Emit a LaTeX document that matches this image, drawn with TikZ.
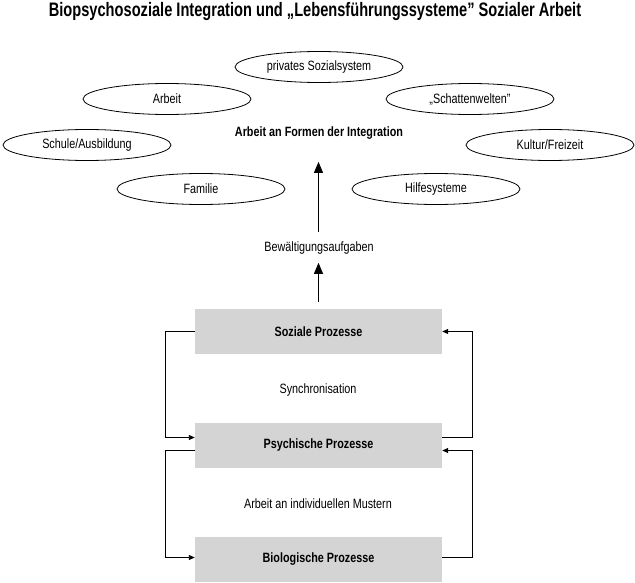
\documentclass[tikz,border=0pt]{standalone}
\usepackage{fontspec}
\setmainfont{Liberation Sans}[FakeStretch=0.8]
\newfontfamily\titelfont{Liberation Sans}[FakeStretch=0.75]
\usetikzlibrary{shapes.geometric,arrows.meta,positioning}
\definecolor{boxgray}{RGB}{212,212,212}

\tikzset{
    feld/.style={ellipse, draw, line width=0.8pt, minimum width=168pt, minimum height=31pt, inner sep=0pt, font=\fontsize{13.5}{15}\selectfont},
    prozess/.style={rectangle, fill=boxgray, minimum width=247pt, minimum height=45pt, inner sep=0pt, font=\fontsize{13.5}{15}\selectfont\bfseries},
    etikett/.style={font=\fontsize{13.5}{15}\selectfont},
    hoch/.style={-{Triangle[width=9pt,length=11pt]}, line width=1pt},
    rueck/.style={-{Triangle[width=5pt,length=6pt]}, line width=0.9pt}
}

\begin{document}
\begin{tikzpicture}[x=1pt, y=-1pt]
\useasboundingbox (0,0) rectangle (635,583);

% Titel
\node[font=\titelfont\fontsize{19.5}{21}\selectfont\bfseries] (titel) at (315,12) {Biopsychosoziale Integration und „Lebensführungssysteme” Sozialer Arbeit};

% Lebensführungssysteme
\node[feld] (privat) at (319,67) {privates Sozialsystem};
\node[feld] (arbeit) at (167,99) {Arbeit};
\node[feld] (schatten) at (470,99) {„Schattenwelten”};
\node[feld] (schule) at (87,145) {Schule/Ausbildung};
\node[feld] (kultur) at (550,145) {Kultur/Freizeit};
\node[feld] (familie) at (201,189) {Familie};
\node[feld] (hilfe) at (436,189) {Hilfesysteme};
\node[etikett, font=\fontsize{13.5}{15}\selectfont\bfseries] (integ) at (319,133) {Arbeit an Formen der Integration};

% Bewältigung
\node[etikett] (bew) at (319,248) {Bewältigungsaufgaben};

% Prozessebenen
\node[prozess] (soz) at (318.5,331.5) {Soziale Prozesse};
\node[prozess] (psy) at (318.5,445.5) {Psychische Prozesse};
\node[prozess] (bio) at (318.5,559.5) {Biologische Prozesse};
\node[etikett] (sync) at (318,390) {Synchronisation};
\node[etikett] (muster) at (318,504) {Arbeit an individuellen Mustern};

% Pfeile nach oben
\draw[hoch, shorten <=7pt, shorten >=5pt] (soz.north) -- (soz.north |- bew.south);
\draw[hoch, shorten <=6pt, shorten >=19pt] (soz.north |- bew.north) -- (soz.north |- integ.south);

% Rückkopplungen
\draw[rueck] (soz.west) -- ++(-29,0) |- ([yshift=8pt]psy.west);
\draw[rueck] ([yshift=8pt]psy.east) -- ++(30,0) |- (soz.east);
\draw[rueck] ([yshift=-5pt]psy.west) -- ++(-29,0) |- ([yshift=2pt]bio.west);
\draw[rueck] ([yshift=2pt]bio.east) -- ++(30,0) |- ([yshift=-5pt]psy.east);

\end{tikzpicture}
\end{document}
